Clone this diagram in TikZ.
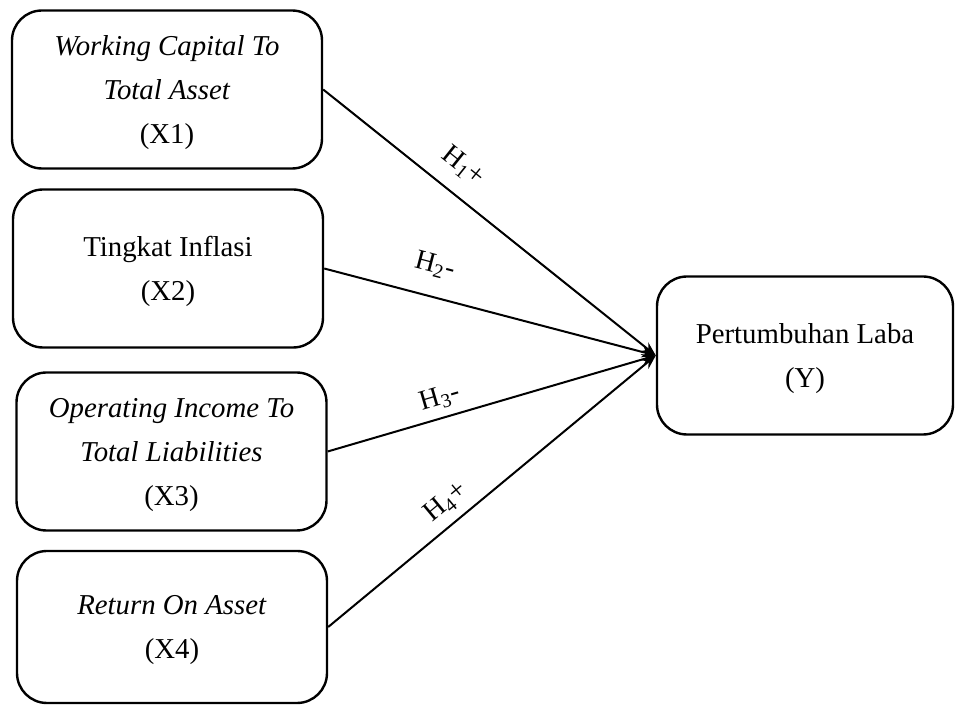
\documentclass[tikz,border=0pt]{standalone}
\usepackage{fontspec}
\setmainfont{Liberation Serif}
\usetikzlibrary{arrows.meta,positioning}

\begin{document}
\begin{tikzpicture}[
    x=0.5pt, y=-0.5pt,
    var/.style={rectangle, rounded corners=15pt, draw, line width=1.2pt, minimum width=155pt, minimum height=79pt, align=center, font=\fontsize{14.4}{22}\selectfont, text depth=-7pt},
    hyp/.style={sloped, inner sep=0pt, font=\fontsize{14}{16}\selectfont},
    arrow/.style={-{Stealth[length=7pt,width=5.5pt]}, line width=1pt}
]

\useasboundingbox (0,0) rectangle (955,705);

% Independent variables
\node[var] (X1) at (167,89.5) {\textit{Working Capital To}\\\textit{Total Asset}\\(X1)};
\node[var] (X2) at (168,268.5) {Tingkat Inflasi\\(X2)};
\node[var] (X3) at (171.5,451.5) {\textit{Operating Income To}\\\textit{Total Liabilities}\\(X3)};
\node[var, minimum height=76pt] (X4) at (172,627) {\textit{Return On Asset}\\(X4)};

% Dependent variable
\node[var, minimum width=148pt] (Y) at (805,355.5) {Pertumbuhan Laba\\(Y)};

% Hypotheses
\draw[arrow] (X1.east) -- node[hyp, pos=0.37, above=7.5pt] {H\textsubscript{1}+} (Y.west);
\draw[arrow] (X2.east) -- node[hyp, pos=0.31, above=9.2pt] {H\textsubscript{2}-} (Y.west);
\draw[arrow] (X3.east) -- node[hyp, pos=0.36, above=3.8pt] {H\textsubscript{3}-} (Y.west);
\draw[arrow] (X4.east) -- node[hyp, pos=0.40, above=4.2pt] {H\textsubscript{4}+} (Y.west);

\end{tikzpicture}
\end{document}
